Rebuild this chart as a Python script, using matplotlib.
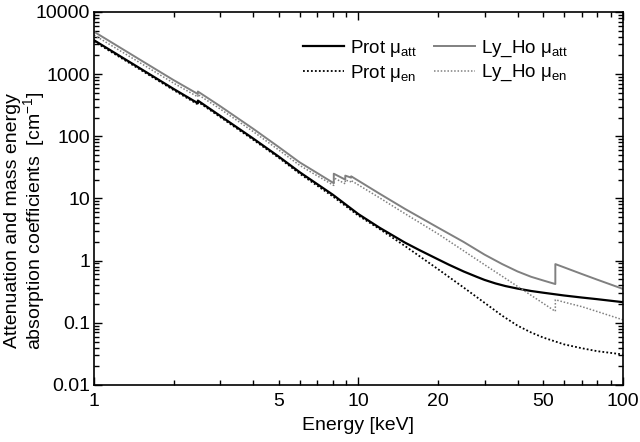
import matplotlib
matplotlib.use("Agg")
import matplotlib.pyplot as plt
from matplotlib.ticker import LogLocator, FuncFormatter, NullFormatter

plt.rcParams['font.family'] = ['Liberation Sans', 'DejaVu Sans']
plt.rcParams['mathtext.fontset'] = 'custom'
plt.rcParams['mathtext.rm'] = 'Liberation Sans'
plt.rcParams['mathtext.it'] = 'Liberation Sans:italic'

# Protein, edge at 2.47 keV
e_prot = [1, 1.5, 2, 2.47, 2.47, 3, 4, 5, 6, 8, 10, 12, 15, 17, 20, 22, 25, 28, 30, 33, 36,
          40, 45, 50, 60, 70, 80, 100]
prot_att = [3500, 1220, 577, 340, 375, 213, 92, 47, 26.4, 11.5, 5.6, 3.4, 1.95, 1.48, 1.05,
            0.86, 0.67, 0.55, 0.49, 0.43, 0.39, 0.355, 0.325, 0.305, 0.275, 0.255, 0.24, 0.215]
e_prot_en = [1, 1.5, 2, 2.47, 2.47, 3, 4, 5, 6, 8, 10, 12, 15, 20, 25, 30, 35, 40, 45, 50,
             60, 70, 80, 100]
prot_en = [3350, 1170, 553, 326, 360, 204, 88, 45, 25, 10.8, 5.3, 3.25, 1.72, 0.73, 0.37,
           0.21, 0.13, 0.09, 0.07, 0.058, 0.045, 0.039, 0.035, 0.031]

# Ly_Ho, with Ho L3/L2/L1 and K edges
e_lyho = [1, 1.5, 2, 2.47, 2.47, 3, 4, 5, 6, 7, 8.07, 8.07, 8.92, 8.92, 9.39, 9.39, 10, 12,
          15, 20, 25, 30, 35, 40, 45, 50, 55.6, 55.6, 60, 70, 80, 100]
lyho_att = [4800, 1680, 800, 478, 525, 305, 132, 67, 38, 25.5, 17.6, 25, 20.1, 23.3, 21.6, 22.7,
            19.3, 12.0, 6.8, 3.4, 2.0, 1.25, 0.88, 0.67, 0.55, 0.48, 0.42, 0.88, 0.78, 0.61,
            0.495, 0.352]
lyho_en = [4250, 1500, 715, 430, 470, 275, 119, 60, 34, 23, 16.2, 21.5, 17.2, 19.8, 18.5, 19.4,
           16.5, 10.3, 5.7, 2.7, 1.44, 0.86, 0.56, 0.385, 0.277, 0.206, 0.153, 0.235, 0.215,
           0.182, 0.152, 0.112]

x_labels = [1, 5, 10, 20, 50, 100]

fig = plt.figure(figsize=(6.4, 4.42), dpi=100)
ax = fig.add_axes([0.147, 0.129, 0.826, 0.844])

gray = '#808080'
ax.plot(e_prot, prot_att, color='black', lw=1.6, label='Prot μ$_{\\mathrm{att}}$')
ax.plot(e_prot_en, prot_en, color='black', lw=1.3, ls=(0, (1, 1.2)), label='Prot μ$_{\\mathrm{en}}$')
ax.plot(e_lyho, lyho_att, color=gray, lw=1.4, label='Ly_Ho μ$_{\\mathrm{att}}$')
ax.plot(e_lyho, lyho_en, color=gray, lw=1.1, ls=(0, (1, 1.2)), label='Ly_Ho μ$_{\\mathrm{en}}$')

ax.set_xscale('log')
ax.set_yscale('log')
ax.set_xlim(1, 100)
ax.set_ylim(0.01, 10000)

ax.xaxis.set_major_locator(LogLocator(base=10))
ax.xaxis.set_minor_locator(LogLocator(base=10, subs=range(2, 10)))
ax.xaxis.set_major_formatter(FuncFormatter(lambda v, p: '%g' % v))
ax.xaxis.set_minor_formatter(FuncFormatter(lambda v, p: '%g' % v if round(v) in x_labels else ''))
ax.yaxis.set_major_locator(LogLocator(base=10))
ax.yaxis.set_minor_locator(LogLocator(base=10, subs=range(2, 10)))
ax.yaxis.set_major_formatter(FuncFormatter(lambda v, p: '%g' % v))
ax.yaxis.set_minor_formatter(NullFormatter())

ax.tick_params(which='both', direction='in', top=True, right=True, labelsize=14, width=1)
ax.tick_params(which='major', length=6)
ax.tick_params(which='minor', length=3.5)
ax.tick_params(axis='x', which='both', pad=6)
ax.tick_params(axis='y', which='both', pad=3)
for s in ax.spines.values():
    s.set_linewidth(1.2)

ax.set_xlabel('Energy [keV]', fontsize=14, labelpad=5)
ax.set_ylabel('Attenuation and mass energy\nabsorption coefficients  [cm$^{\\mathrm{-1}}$]',
              fontsize=14, linespacing=1.0)
ax.yaxis.set_label_coords(-0.09, 0.44)

ax.legend(loc='upper left', ncol=2, frameon=False, fontsize=13.5, handlelength=2.2,
          columnspacing=0.9, handletextpad=0.3, labelspacing=0.2, borderpad=0,
          borderaxespad=0, bbox_to_anchor=(0.395, 0.93))

fig.savefig('out.png', dpi=100)
